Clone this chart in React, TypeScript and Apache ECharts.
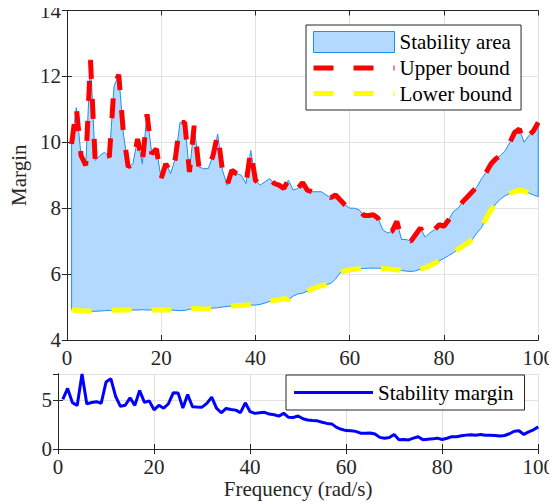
import React, { useEffect, useRef } from "react";
import * as echarts from "echarts";

const freq = [
  1, 2, 3, 4, 5, 6, 7, 8, 9, 10, 11, 12, 13, 14, 15, 16, 17, 18, 19, 20,
  21, 22, 23, 24, 25, 26, 27, 28, 29, 30, 31, 32, 33, 34, 35, 36, 37, 38, 39, 40,
  41, 42, 43, 44, 45, 46, 47, 48, 49, 50, 51, 52, 53, 54, 55, 56, 57, 58, 59, 60,
  61, 62, 63, 64, 65, 66, 67, 68, 69, 70, 71, 72, 73, 74, 75, 76, 77, 78, 79, 80,
  81, 82, 83, 84, 85, 86, 87, 88, 89, 90, 91, 92, 93, 94, 95, 96, 97, 98, 99, 100,
];

const upperBound = [
  9.95, 11.05, 9.6, 9.3, 12.5, 9.45, 9.6, 9.7, 9.55, 11.7,
  12.05, 10.25, 9.25, 9.35, 10.1, 9.35, 10.85, 9.65, 9.8, 8.9,
  9.35, 9.05, 9.5, 10.6, 10.6, 9.1, 10.5, 9.25, 9.2, 9.2,
  9.6, 10.25, 9.15, 8.7, 9.15, 9.05, 9.0, 8.75, 9.75, 8.85,
  8.7, 8.8, 8.9, 8.75, 8.7, 8.6, 8.85, 8.55, 8.6, 8.78,
  8.55, 8.5, 8.5, 8.5, 8.4, 8.32, 8.4, 8.25, 8.1, 8.0,
  8.0, 7.95, 7.78, 7.78, 7.8, 7.7, 7.35, 7.25, 7.3, 7.6,
  7.05, 7.05, 7.0, 7.2, 7.4, 7.12, 7.25, 7.35, 7.5, 7.45,
  7.65, 7.9, 8.0, 8.2, 8.35, 8.5, 8.65, 8.9, 9.1, 9.35,
  9.5, 9.6, 9.75, 10.0, 10.3, 10.4, 10.0, 10.2, 10.35, 10.6,
];

const lowerBound = [
  4.91, 4.9, 4.89, 4.88, 4.88, 4.87, 4.88, 4.89, 4.9, 4.9,
  4.9, 4.91, 4.91, 4.91, 4.91, 4.92, 4.91, 4.91, 4.91, 4.92,
  4.91, 4.91, 4.9, 4.89, 4.9, 4.93, 4.96, 4.95, 4.94, 4.95,
  4.97, 4.98, 5.0, 5.02, 5.03, 5.04, 5.05, 5.06, 5.06, 5.06,
  5.08, 5.12, 5.17, 5.2, 5.22, 5.26, 5.22, 5.33, 5.4, 5.42,
  5.48, 5.55, 5.6, 5.64, 5.68, 5.72, 5.85, 6.05, 6.1, 6.13,
  6.15, 6.16, 6.17, 6.18, 6.18, 6.18, 6.17, 6.16, 6.14, 6.13,
  6.11, 6.09, 6.08, 6.1, 6.15, 6.19, 6.25, 6.32, 6.4, 6.48,
  6.56, 6.65, 6.75, 6.85, 6.94, 7.05, 7.25, 7.42, 7.7, 7.95,
  8.13, 8.28, 8.38, 8.45, 8.5, 8.55, 8.52, 8.46, 8.4, 8.35,
];

const xTicks = [0, 20, 40, 60, 80, 100];

const FONT = "'Liberation Serif', 'Times New Roman', serif";
const FS = 21;
const AXIS_COLOR = "#262626";
const GRID_COLOR = "#e2e2e2";
const FILL = "#b3d9ff";
const EDGE = "#1f8fef";

export default function App() {
  const ref = useRef<HTMLDivElement>(null);

  useEffect(() => {
    if (!ref.current) return;
    const chart = echarts.init(ref.current, undefined, { renderer: "svg" });

    const margin = upperBound.map((u, i) => +(u - lowerBound[i]).toFixed(3));
    const marginMax = Math.max(...margin);

    const bandData = freq.map((x, i) => [x, lowerBound[i], upperBound[i]]);
    const lowerData = freq.map((x, i) => [x, lowerBound[i]]);
    const upperData = freq.map((x, i) => [x, upperBound[i]]);
    const marginData = freq.map((x, i) => [x, margin[i]]);

    const labelStyle = { color: AXIS_COLOR, fontFamily: FONT, fontSize: FS };

    const mkX = (grid: number, showLabel: boolean, extra: any = {}) => ({
      type: "value",
      gridIndex: grid,
      min: xTicks[0],
      max: xTicks[xTicks.length - 1],
      interval: 20,
      axisLine: { show: true, lineStyle: { color: AXIS_COLOR, width: 1 } },
      axisTick: { show: true, inside: true, length: 5, lineStyle: { color: AXIS_COLOR } },
      axisLabel: { show: showLabel, ...labelStyle, margin: 7 },
      splitLine: { show: showLabel, lineStyle: { color: GRID_COLOR, width: 1 } },
      ...extra,
    });

    const mkY = (grid: number, showLabel: boolean, min: number, max: number, interval: number, extra: any = {}) => ({
      type: "value",
      gridIndex: grid,
      min,
      max,
      interval,
      axisLine: { show: true, lineStyle: { color: AXIS_COLOR, width: 1 } },
      axisTick: { show: true, inside: true, length: 5, lineStyle: { color: AXIS_COLOR } },
      axisLabel: { show: showLabel, ...labelStyle, margin: 6, showMaxLabel: grid === 0 },
      splitLine: { show: showLabel, lineStyle: { color: GRID_COLOR, width: 1 } },
      ...extra,
    });

    chart.setOption({
      animation: false,
      backgroundColor: "#ffffff",
      grid: [
        { left: 58, top: 9, width: 482, height: 331 },
        { left: 58, top: 374, width: 482, height: 75 },
      ],
      xAxis: [
        mkX(0, true),
        mkX(0, false, { position: "top" }),
        mkX(1, true, {
          name: "Frequency (rad/s)",
          nameLocation: "middle",
          nameGap: 29,
          nameTextStyle: { color: AXIS_COLOR, fontFamily: FONT, fontSize: FS },
        }),
        mkX(1, false, { position: "top" }),
      ],
      yAxis: [
        mkY(0, true, 4, 14, 2, {
          name: "Margin",
          nameLocation: "middle",
          nameGap: 34,
          nameRotate: 90,
          nameTextStyle: { color: AXIS_COLOR, fontFamily: FONT, fontSize: FS },
        }),
        mkY(0, false, 4, 14, 2, { position: "right" }),
        mkY(1, true, 0, marginMax, 5),
        mkY(1, false, 0, marginMax, 5, { position: "right" }),
      ],
      legend: [
        {
          left: 306,
          top: 25,
          orient: "vertical",
          padding: [6, 9, 6, 7],
          itemWidth: 81,
          itemHeight: 21,
          itemGap: 4.5,
          backgroundColor: "#ffffff",
          borderColor: "#262626",
          borderWidth: 1,
          borderRadius: 0,
          selectedMode: false,
          textStyle: { color: "#000000", fontFamily: FONT, fontSize: FS },
          data: [
            {
              name: "Stability area",
              icon: "rect",
              itemStyle: { color: FILL, borderColor: EDGE, borderWidth: 1 },
            },
            {
              name: "Upper bound",
              icon: "path://M0 0H20V5H0Z M40 0H60V5H40Z M80 0H81V5H80Z",
              itemStyle: { color: "#ff0000", borderWidth: 0 },
            },
            {
              name: "Lower bound",
              icon: "path://M0 0H20V5H0Z M40 0H60V5H40Z M80 0H81V5H80Z",
              itemStyle: { color: "#ffff00", borderWidth: 0 },
            },
          ],
        },
        {
          left: 286,
          top: 375,
          orient: "vertical",
          padding: [7, 11, 7, 8],
          itemWidth: 79,
          itemHeight: 14,
          backgroundColor: "#ffffff",
          borderColor: "#262626",
          borderWidth: 1,
          borderRadius: 0,
          selectedMode: false,
          textStyle: { color: "#000000", fontFamily: FONT, fontSize: FS },
          data: [
            {
              name: "Stability margin",
              icon: "path://M0 0H79V3H0Z",
              itemStyle: { color: "#0000ff", borderWidth: 0 },
            },
          ],
        },
      ],
      series: [
        {
          name: "Stability area",
          type: "custom",
          xAxisIndex: 0,
          yAxisIndex: 0,
          data: bandData,
          encode: { x: 0, y: [1, 2] },
          itemStyle: { color: FILL },
          clip: true,
          z: 2,
          renderItem: (params: any, api: any) => {
            if (params.dataIndex !== 0) return null;
            const pts: number[][] = [];
            for (let i = 0; i < freq.length; i++) pts.push(api.coord([freq[i], upperBound[i]]));
            for (let i = freq.length - 1; i >= 0; i--) pts.push(api.coord([freq[i], lowerBound[i]]));
            return {
              type: "polygon",
              shape: { points: pts },
              style: { fill: FILL, stroke: EDGE, lineWidth: 1 },
            };
          },
        },
        {
          name: "Upper bound",
          type: "line",
          xAxisIndex: 0,
          yAxisIndex: 0,
          data: upperData,
          symbol: "none",
          itemStyle: { color: "#ff0000" },
          lineStyle: { color: "#ff0000", width: 5, type: [20, 20] },
          z: 3,
        },
        {
          name: "Lower bound",
          type: "line",
          xAxisIndex: 0,
          yAxisIndex: 0,
          data: lowerData,
          symbol: "none",
          itemStyle: { color: "#ffff00" },
          lineStyle: { color: "#ffff00", width: 5, type: [20, 20] },
          z: 3,
        },
        {
          name: "Stability margin",
          type: "line",
          xAxisIndex: 2,
          yAxisIndex: 2,
          data: marginData,
          symbol: "none",
          itemStyle: { color: "#0000ff" },
          lineStyle: { color: "#0000ff", width: 3 },
          z: 3,
        },
      ],
    });

    return () => chart.dispose();
  }, []);

  return <div ref={ref} style={{ width: 557, height: 504, marginLeft: -8, marginTop: -8 }} />;
}
